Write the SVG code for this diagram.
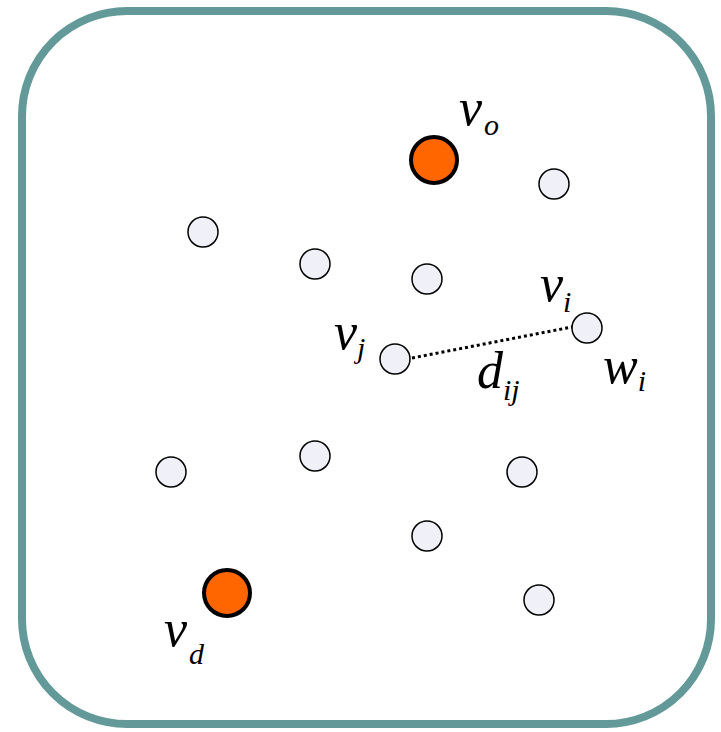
<svg xmlns="http://www.w3.org/2000/svg" width="721" height="732" viewBox="0 0 721 732">
<style>
.n{fill:#f0f0f8;stroke:#000;stroke-width:1.5}
.s{fill:#ff6600;stroke:#000;stroke-width:4}
.t{font-family:"Liberation Serif","Times New Roman",serif;font-style:italic;fill:#000}
.b{font-size:52px}
.sub{font-size:30px}
</style>
<rect x="22" y="11" width="689" height="713" rx="105" ry="105" fill="#fff" stroke="#639a99" stroke-width="8"/>
<g id="connectors">
<line x1="412" y1="358" x2="572" y2="327" stroke="#000" stroke-width="3" stroke-dasharray="3,3"/>
</g>
<g id="vo"><circle class="s" cx="434" cy="160" r="23"/><text class="t" x="459" y="125"><tspan class="b">v</tspan><tspan class="sub" dx="2" dy="10">o</tspan></text></g>
<g id="vd"><circle class="s" cx="227" cy="593" r="23"/><text class="t" x="164" y="646"><tspan class="b">v</tspan><tspan class="sub" dx="2" dy="18">d</tspan></text></g>
<g id="vi"><circle class="n" cx="587" cy="328" r="15"/><text class="t" x="540" y="301"><tspan class="b">v</tspan><tspan class="sub" dx="0" dy="11">i</tspan></text><text class="t" x="603" y="383"><tspan class="b">w</tspan><tspan class="sub" dy="8">i</tspan></text></g>
<g id="vj"><circle class="n" cx="395" cy="359" r="15"/><text class="t" x="334" y="349"><tspan class="b">v</tspan><tspan class="sub" dy="9">j</tspan></text></g>
<g id="dij"><text class="t" x="477" y="388"><tspan class="b">d</tspan><tspan class="sub" dy="12">ij</tspan></text></g>
<g id="n1"><circle class="n" cx="554" cy="184" r="15"/></g>
<g id="n2"><circle class="n" cx="203" cy="232" r="15"/></g>
<g id="n3"><circle class="n" cx="315" cy="264" r="15"/></g>
<g id="n4"><circle class="n" cx="427" cy="279" r="15"/></g>
<g id="n5"><circle class="n" cx="171" cy="472" r="15"/></g>
<g id="n6"><circle class="n" cx="315" cy="456" r="15"/></g>
<g id="n7"><circle class="n" cx="522" cy="472" r="15"/></g>
<g id="n8"><circle class="n" cx="427" cy="536" r="15"/></g>
<g id="n9"><circle class="n" cx="539" cy="600" r="15"/></g>
</svg>
